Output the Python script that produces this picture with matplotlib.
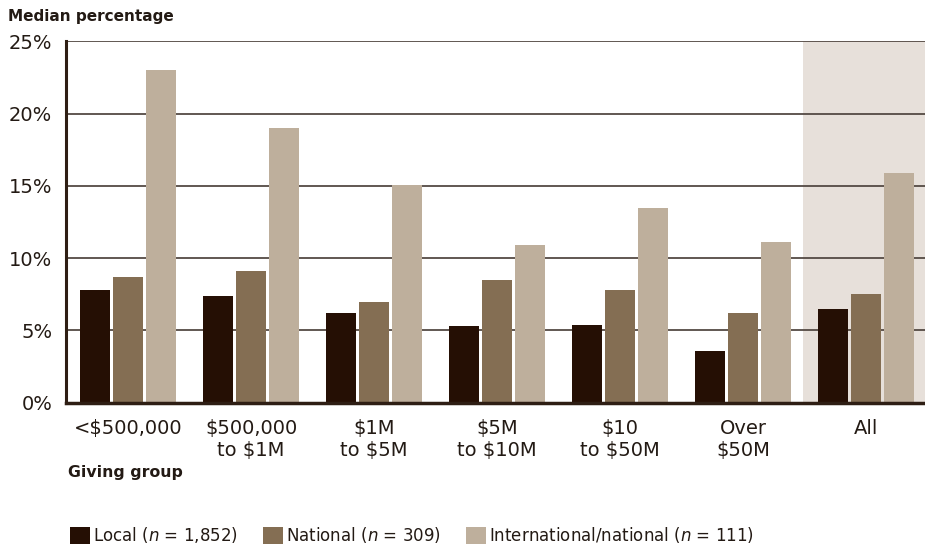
import numpy as np
import matplotlib
matplotlib.use('Agg')
import matplotlib.pyplot as plt

# Data (median percentage)
groups = ['<$500,000', '$500,000\nto $1M', '$1M\nto $5M', '$5M\nto $10M',
          '$10\nto $50M', 'Over\n$50M', 'All']
local = [7.8, 7.4, 6.2, 5.3, 5.4, 3.6, 6.5]
national = [8.7, 9.1, 7.0, 8.5, 7.8, 6.2, 7.5]
international = [23.0, 19.0, 15.1, 10.9, 13.5, 11.1, 15.9]
series_labels = [r'Local ($n$ = 1,852)', r'National ($n$ = 309)',
                 r'International/national ($n$ = 111)']
colors = ['#250f04', '#846e53', '#beaf9c']

fig = plt.figure(figsize=(9.25, 5.46), dpi=100)
ax = fig.add_axes([0.0714, 0.2625, 0.9286, 0.6615])

x = np.arange(len(groups))
w = 0.244
step = 0.268
handles = []
for i, (vals, col) in enumerate(zip([local, national, international], colors)):
    b = ax.bar(x + (i - 1) * step, vals, width=w, color=col, zorder=3)
    handles.append(b)

# shaded "All" column
ax.axvspan(5.49, 6.6, color='#e7e0da', zorder=0, lw=0)

ax.set_xlim(-0.504, 6.48)
ax.set_ylim(0, 25)
ax.set_yticks([0, 5, 10, 15, 20, 25])
ax.set_yticklabels(['0%', '5%', '10%', '15%', '20%', '25%'])
ax.set_xticks(x)
ax.set_xticklabels(groups, linespacing=1.2)
ax.tick_params(axis='both', length=0, labelsize=14, colors='#231a14')
ax.tick_params(axis='y', pad=10)
ax.tick_params(axis='x', pad=12)

ax.grid(axis='y', color='#544a44', lw=1.3, zorder=1)
ax.set_axisbelow(False)
for gl in ax.get_ygridlines():
    gl.set_zorder(1)

ax.spines['right'].set_visible(False)
ax.spines['top'].set_visible(False)
ax.spines['left'].set_color('#2e1e14')
ax.spines['left'].set_linewidth(2.2)
ax.spines['bottom'].set_color('#2e1e14')
ax.spines['bottom'].set_linewidth(2.5)
ax.spines['left'].set_zorder(4)
ax.spines['bottom'].set_zorder(4)

fig.text(0.009, 0.969, 'Median percentage', fontsize=11, fontweight='bold',
         color='#231a14', va='center', ha='left')
fig.text(0.073, 0.134, 'Giving group', fontsize=11.3, fontweight='bold',
         color='#231a14', va='center', ha='left')

fig.legend(handles, series_labels, loc='center left', bbox_to_anchor=(0.068, 0.02),
           ncol=3, frameon=False, fontsize=12, handlelength=1.2, handleheight=1.2,
           handletextpad=0.2, columnspacing=1.5, borderaxespad=0,
           labelcolor='#231a14')

fig.savefig('out.png', dpi=100)
